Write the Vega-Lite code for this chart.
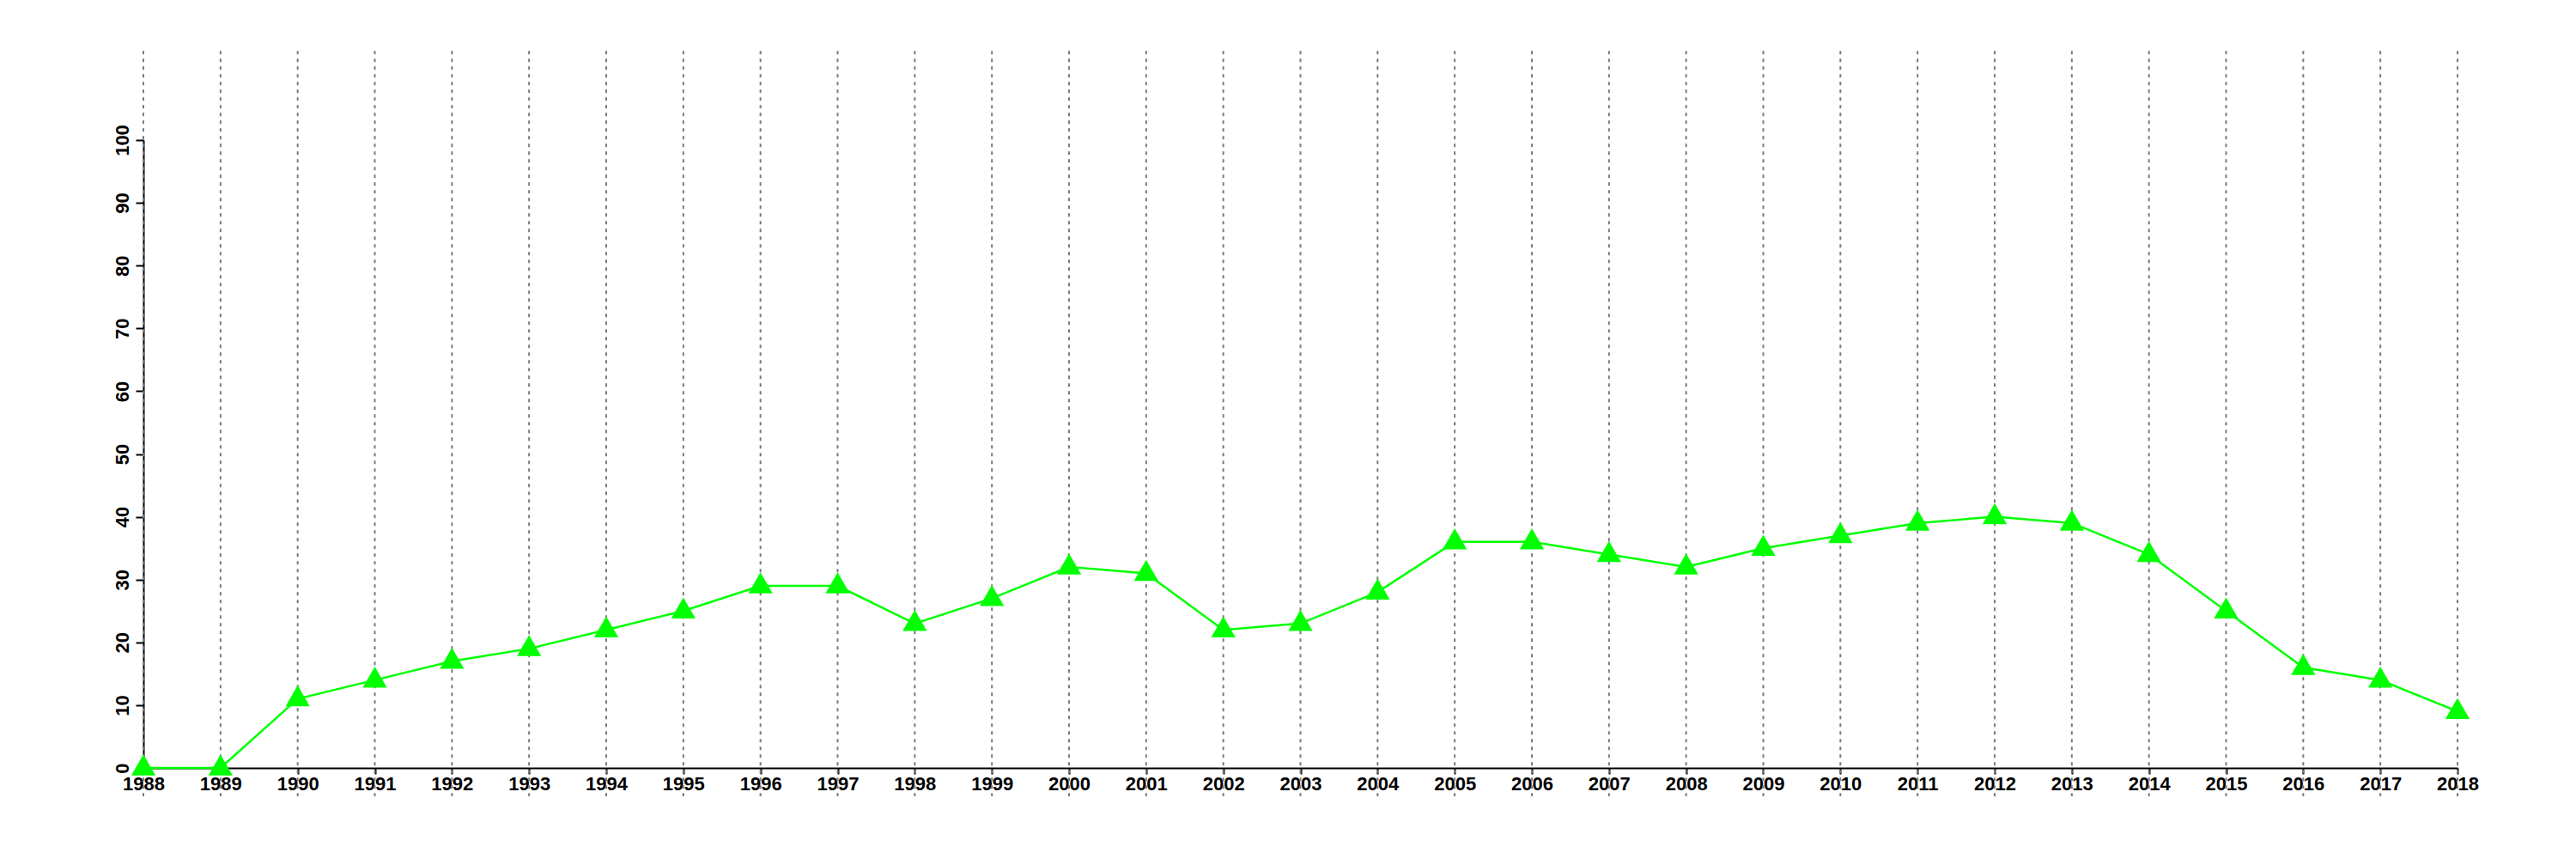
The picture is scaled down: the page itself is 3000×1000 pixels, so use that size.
{
  "$schema": "https://vega.github.io/schema/vega-lite/v6.json",
  "width": 2695,
  "height": 731,
  "autosize": {"type": "none"},
  "padding": {"left": 167, "top": 163, "right": 138, "bottom": 106},
  "background": "white",
  "config": {
    "view": {"stroke": null},
    "axis": {
      "labelFont": "Liberation Sans",
      "labelFontWeight": "bold",
      "labelFontSize": 22,
      "labelColor": "black",
      "domainColor": "black",
      "domainWidth": 2,
      "tickColor": "black",
      "tickWidth": 2,
      "grid": false,
      "title": null
    }
  },
  "data": {
    "values": [
      {"year": 1988, "value": 0},
      {"year": 1989, "value": 0},
      {"year": 1990, "value": 11},
      {"year": 1991, "value": 14},
      {"year": 1992, "value": 17},
      {"year": 1993, "value": 19},
      {"year": 1994, "value": 22},
      {"year": 1995, "value": 25},
      {"year": 1996, "value": 29},
      {"year": 1997, "value": 29},
      {"year": 1998, "value": 23},
      {"year": 1999, "value": 27},
      {"year": 2000, "value": 32},
      {"year": 2001, "value": 31},
      {"year": 2002, "value": 22},
      {"year": 2003, "value": 23},
      {"year": 2004, "value": 28},
      {"year": 2005, "value": 36},
      {"year": 2006, "value": 36},
      {"year": 2007, "value": 34},
      {"year": 2008, "value": 32},
      {"year": 2009, "value": 35},
      {"year": 2010, "value": 37},
      {"year": 2011, "value": 39},
      {"year": 2012, "value": 40},
      {"year": 2013, "value": 39},
      {"year": 2014, "value": 34},
      {"year": 2015, "value": 25},
      {"year": 2016, "value": 16},
      {"year": 2017, "value": 14},
      {"year": 2018, "value": 9}
    ]
  },
  "encoding": {
    "x": {
      "field": "year",
      "type": "quantitative",
      "scale": {"domain": [1988, 2018], "nice": false, "zero": false},
      "axis": {
        "values": [1988,1989,1990,1991,1992,1993,1994,1995,1996,1997,1998,1999,2000,2001,2002,2003,2004,2005,2006,2007,2008,2009,2010,2011,2012,2013,2014,2015,2016,2017,2018],
        "format": "d",
        "tickSize": 7,
        "labelPadding": 1,
        "labelFlush": false,
        "labelOverlap": false
      }
    }
  },
  "layer": [
    {
      "mark": {"type": "rule", "color": "#7a7a7a", "strokeWidth": 2, "strokeDash": [4, 5], "clip": false},
      "encoding": {
        "y": {"datum": 114.2, "type": "quantitative"},
        "y2": {"datum": -4.5}
      }
    },
    {
      "mark": {"type": "line", "color": "#00ff00", "strokeWidth": 2.5, "clip": false},
      "encoding": {
        "y": {
          "field": "value",
          "type": "quantitative",
          "scale": {"domain": [0, 100], "nice": false},
          "axis": {
            "values": [0,10,20,30,40,50,60,70,80,90,100],
            "labelAngle": 270,
            "labelAlign": "center",
            "labelBaseline": "bottom",
            "tickSize": 9,
            "labelPadding": 4,
            "labelFlush": false,
            "labelOverlap": false
          }
        }
      }
    },
    {
      "mark": {"type": "point", "shape": "triangle-up", "filled": true, "size": 800, "color": "#00ff00", "opacity": 1, "yOffset": -3.5, "clip": false},
      "encoding": {
        "y": {"field": "value", "type": "quantitative"}
      }
    }
  ]
}
